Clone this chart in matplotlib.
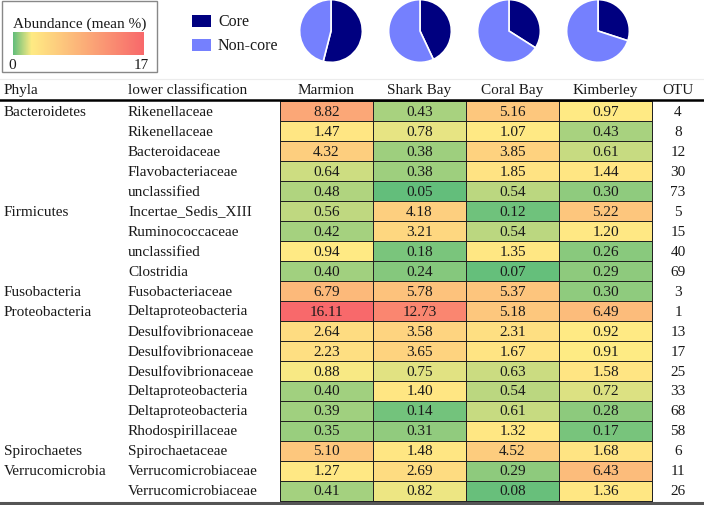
import numpy as np
import matplotlib.pyplot as plt
from matplotlib.colors import LinearSegmentedColormap, TwoSlopeNorm
from matplotlib.patches import Rectangle

# ---- data ----
phyla = ["Bacteroidetes", "", "", "", "", "Firmicutes", "", "", "", "Fusobacteria",
         "Proteobacteria", "", "", "", "", "", "", "Spirochaetes", "Verrucomicrobia", ""]
lower = ["Rikenellaceae", "Rikenellaceae", "Bacteroidaceae", "Flavobacteriaceae", "unclassified",
         "Incertae_Sedis_XIII", "Ruminococcaceae", "unclassified", "Clostridia",
         "Fusobacteriaceae", "Deltaproteobacteria", "Desulfovibrionaceae", "Desulfovibrionaceae",
         "Desulfovibrionaceae", "Deltaproteobacteria", "Deltaproteobacteria", "Rhodospirillaceae",
         "Spirochaetaceae", "Verrucomicrobiaceae", "Verrucomicrobiaceae"]
sites = ["Marmion", "Shark Bay", "Coral Bay", "Kimberley"]
marmion = [8.82, 1.47, 4.32, 0.64, 0.48, 0.56, 0.42, 0.94, 0.40, 6.79,
           16.11, 2.64, 2.23, 0.88, 0.40, 0.39, 0.35, 5.10, 1.27, 0.41]
shark_bay = [0.43, 0.78, 0.38, 0.38, 0.05, 4.18, 3.21, 0.18, 0.24, 5.78,
             12.73, 3.58, 3.65, 0.75, 1.40, 0.14, 0.31, 1.48, 2.69, 0.82]
coral_bay = [5.16, 1.07, 3.85, 1.85, 0.54, 0.12, 0.54, 1.35, 0.07, 5.37,
             5.18, 2.31, 1.67, 0.63, 0.54, 0.61, 1.32, 4.52, 0.29, 0.08]
kimberley = [0.97, 0.43, 0.61, 1.44, 0.30, 5.22, 1.20, 0.26, 0.29, 0.30,
             6.49, 0.92, 0.91, 1.58, 0.72, 0.28, 0.17, 1.68, 6.43, 1.36]
otu = [4, 8, 12, 30, 73, 5, 15, 40, 69, 3, 1, 13, 17, 25, 33, 68, 58, 6, 11, 26]
core_pct = [54, 43, 34, 30]   # share of core per site (pies)

# ---- style ----
plt.rcParams['font.family'] = ['Liberation Serif', 'DejaVu Serif']
GREEN, YELLOW, RED = '#63BE7B', '#FFEB84', '#F8696B'
CORE, NONCORE = '#000080', '#7580FE'
TXT = '#1a1a1a'
cmap = LinearSegmentedColormap.from_list('gyr', [GREEN, YELLOW, RED])

W, H = 704, 506
fig = plt.figure(figsize=(W / 100, H / 100), dpi=100)
ax = fig.add_axes([0, 0, 1, 1])
ax.set_xlim(0, W)
ax.set_ylim(H, 0)
ax.axis('off')

# table grid
col_edges = np.array([280, 373, 466, 559, 652])
row_edges = np.linspace(102, 502, len(lower) + 1)
vals = np.array([marmion, shark_bay, coral_bay, kimberley]).T
norm = TwoSlopeNorm(vmin=vals.min(), vcenter=np.median(vals), vmax=vals.max())
ax.pcolormesh(col_edges, row_edges, vals, cmap=cmap, norm=norm,
              edgecolors='#222222', linewidth=0.6)

row_c = (row_edges[:-1] + row_edges[1:]) / 2
col_c = (col_edges[:-1] + col_edges[1:]) / 2
otu_x = 678
fs = 11
for i in range(len(lower)):
    ax.text(4, row_c[i], phyla[i], fontsize=fs, va='center', color=TXT)
    ax.text(128, row_c[i], lower[i], fontsize=fs, va='center', color=TXT)
    for j in range(len(sites)):
        ax.text(col_c[j], row_c[i], f"{vals[i, j]:.2f}", fontsize=fs,
                ha='center', va='center', color=TXT)
    ax.text(otu_x, row_c[i], str(otu[i]), fontsize=fs, ha='center', va='center', color=TXT)

# header
hy = 90
ax.text(4, hy, "Phyla", fontsize=fs, va='center', color=TXT)
ax.text(128, hy, "lower classification", fontsize=fs, va='center', color=TXT)
for j, s in enumerate(sites):
    ax.text(col_c[j], hy, s, fontsize=fs, ha='center', va='center', color=TXT)
ax.text(otu_x, hy, "OTU", fontsize=fs, ha='center', va='center', color=TXT)
ax.plot([0, W], [80, 80], color='#ececec', lw=0.8)
ax.plot([0, W], [100.5, 100.5], color='black', lw=1.8)
ax.plot([0, W], [503.5, 503.5], color='#555555', lw=2.2)

# colour key box
ax.add_patch(Rectangle((2, 2), 155, 71, fill=False, edgecolor='#888888', lw=1))
ax.text(80, 24, "Abundance (mean %)", fontsize=11, ha='center', va='center', color=TXT)
grad = np.linspace(0, 17, 256)[None, :]
ax.imshow(grad, cmap=cmap, norm=TwoSlopeNorm(vmin=0, vcenter=2.4, vmax=17),
          extent=[13, 144, 56, 33], aspect='auto')
ax.text(8, 65, "0", fontsize=11, va='center', color=TXT)
ax.text(149, 65, "17", fontsize=11, ha='right', va='center', color=TXT)

# core legend
ax.add_patch(Rectangle((192, 16), 19, 12, color=CORE, lw=0))
ax.add_patch(Rectangle((192, 40), 19, 12, color=NONCORE, lw=0))
ax.text(218, 22, "Core", fontsize=11.5, va='center', color=TXT)
ax.text(218, 46, "Non-core", fontsize=11.5, va='center', color=TXT)

# pies
pie_x = [331, 420, 509, 598]
r = 32
for cx, pct in zip(pie_x, core_pct):
    pax = fig.add_axes([(cx - r) / W, 1 - (32 + r) / H, 2 * r / W, 2 * r / H])
    pax.pie([pct, 100 - pct], colors=[CORE, NONCORE], startangle=90, counterclock=False,
            wedgeprops=dict(edgecolor='white', linewidth=1.2))
    pax.set_xlim(-1.02, 1.02)
    pax.set_ylim(-1.02, 1.02)

fig.savefig("out.png", dpi=100)
